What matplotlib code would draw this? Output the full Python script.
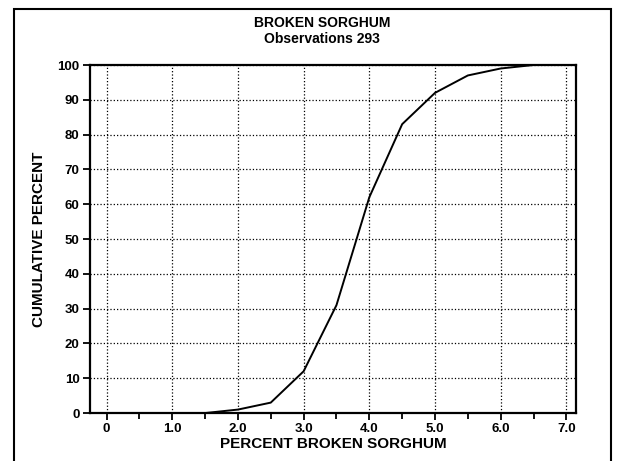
import matplotlib
matplotlib.use("Agg")
import matplotlib.pyplot as plt
from matplotlib.patches import Rectangle

plt.rcParams['font.family'] = ['Liberation Sans', 'DejaVu Sans']

# cumulative distribution
pct_broken = [0, 0.5, 1.0, 1.5, 2.0, 2.5, 3.0, 3.5, 4.0, 4.5, 5.0, 5.5, 6.0, 6.5, 7.0]
cum_pct = [0, 0, 0, 0, 1, 3, 12, 31, 62, 83, 92, 97, 99, 100, 100]

x_ticks = [0, 1, 2, 3, 4, 5, 6, 7]
x_labels = ['0', '1.0', '2.0', '3.0', '4.0', '5.0', '6.0', '7.0']
y_ticks = list(range(0, 101, 10))

fig = plt.figure(figsize=(6.17, 4.61), dpi=100)
ax = fig.add_axes([0.146, 0.104, 0.788, 0.755])

# outer frame around the whole chart
fig.patches.append(Rectangle((0.022, -0.01), 0.968, 0.99, transform=fig.transFigure,
                             fill=False, edgecolor='black', linewidth=1.5))

ax.plot(pct_broken, cum_pct, color='black', linewidth=1.4)

ax.set_xlim(-0.25, 7.15)
ax.set_ylim(0, 100)
ax.set_xticks(x_ticks)
ax.set_xticklabels(x_labels)
ax.set_xticks([v + 0.5 for v in x_ticks[:-1]], minor=True)
ax.set_yticks(y_ticks)

ax.grid(True, which='major', linestyle=':', color='black', linewidth=0.9)
for s in ax.spines.values():
    s.set_linewidth(1.6)

ax.tick_params(axis='both', which='major', direction='out', length=5, width=1.3,
               labelsize=9.5, pad=2.5)
ax.tick_params(axis='x', which='minor', direction='out', length=4, width=1.3)
for lab in ax.get_xticklabels() + ax.get_yticklabels():
    lab.set_fontweight('bold')

ax.set_xlabel('PERCENT BROKEN SORGHUM', fontsize=11, fontweight='bold', labelpad=1)
ax.set_ylabel('CUMULATIVE PERCENT', fontsize=11, fontweight='bold', labelpad=8)

fig.text(0.522, 0.950, 'BROKEN SORGHUM', ha='center', va='center',
         fontsize=10, fontweight='bold')
fig.text(0.522, 0.916, 'Observations 293', ha='center', va='center',
         fontsize=10, fontweight='bold')

fig.savefig('out.png', dpi=100)
